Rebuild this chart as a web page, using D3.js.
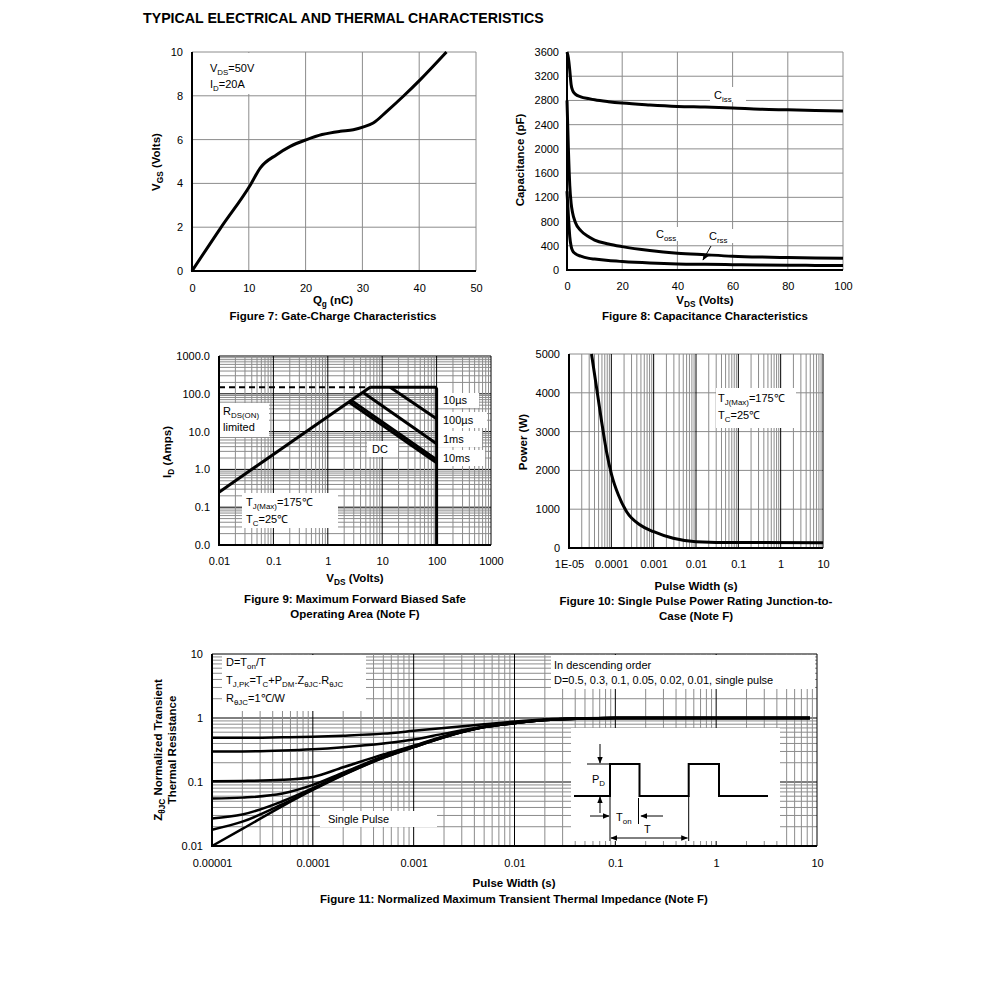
<!DOCTYPE html>
<html>
<head>
<meta charset="utf-8">
<script src="https://cdn.jsdelivr.net/npm/d3@7"></script>
<style>
  body { margin: 0; background: #fff; }
</style>
</head>
<body>
<div id="chart"></div>
<script>
const FONT = '"Liberation Sans", Arial, Helvetica, sans-serif';
const GRID = "#8c8c8c";
const TICK = 11, NOTE = 11, HEAD = 11.5;

// ---------- data ----------
const pageTitle = "TYPICAL ELECTRICAL AND THERMAL CHARACTERISTICS";

// Figure 7: gate charge
const gateCharge = [0, 5, 10.3, 12, 14.9, 17.3, 20.2, 22.9, 26.1, 28.4, 30.2, 31.9, 34.3, 37.2, 40.2, 44.8];
const gateVoltage = [0, 1.95, 3.94, 4.7, 5.31, 5.69, 6.0, 6.23, 6.38, 6.45, 6.58, 6.76, 7.29, 7.98, 8.74, 10];
const fig7XTicks = [0, 10, 20, 30, 40, 50];
const fig7YTicks = [0, 2, 4, 6, 8, 10];

// Figure 8: capacitance
const capVds = [0, 0.5, 1, 1.5, 2, 3, 5, 8, 10, 15, 20, 30, 40, 50, 60, 70, 80, 90, 100];
const ciss = [3600, 3500, 3300, 3060, 2970, 2905, 2860, 2830, 2812, 2780, 2756, 2725, 2702, 2690, 2675, 2655, 2645, 2635, 2625];
const coss = [2800, 2000, 1400, 1100, 950, 790, 650, 545, 495, 430, 386, 322, 278, 252, 228, 214, 206, 199, 194];
const crss = [1300, 900, 550, 390, 320, 270, 228, 192, 180, 156, 140, 116, 100, 93, 88, 83, 79, 76, 73];
const fig8XTicks = [0, 20, 40, 60, 80, 100];
const fig8YTicks = [0, 400, 800, 1200, 1600, 2000, 2400, 2800, 3200, 3600];

// Figure 9: safe operating area
const soaXTicks = [0.01, 0.1, 1, 10, 100, 1000];
const soaXLabels = ["0.01", "0.1", "1", "10", "100", "1000"];
const soaYTicks = [0.01, 0.1, 1, 10, 100, 1000];
const soaYLabels = ["0.0", "0.1", "1.0", "10.0", "100.0", "1000.0"];
const soaPkgV = [0.01, 6];          const soaPkgI = [150, 150];       // dashed package limit
const soaRdsV = [0.01, 6];          const soaRdsI = [0.25, 150];
const soa10usV = [6, 96, 100, 100]; const soa10usI = [150, 150, 135, 0.01];
const soa100usV = [14, 100];        const soa100usI = [150, 22];
const soa1msV = [4.4, 100];         const soa1msI = [110, 4.8];
const soa10msV = [2.7, 100];        const soa10msI = [67, 1.8];
const soaDcV = [2.45, 100];         const soaDcI = [61, 1.5];

// Figure 10: single pulse power
const pulseWidth = [3.4e-5, 4.5e-5, 5.9e-5, 7.7e-5, 1.02e-4, 1.47e-4, 2.3e-4, 4.8e-4, 1e-3, 2.9e-3, 0.01, 0.1, 10];
const pulsePower = [5000, 4115, 3256, 2482, 1881, 1366, 936, 593, 420, 250, 163, 140, 137];
const fig10XTicks = [1e-5, 1e-4, 1e-3, 1e-2, 0.1, 1, 10];
const fig10XLabels = ["1E-05", "0.0001", "0.001", "0.01", "0.1", "1", "10"];
const fig10YTicks = [0, 1000, 2000, 3000, 4000, 5000];

// Figure 11: transient thermal impedance
const zthTime = [1e-5, 2e-5, 5e-5, 1e-4, 2e-4, 5e-4, 1e-3, 2e-3, 5e-3, 1e-2, 2e-2, 5e-2, 0.1, 1, 8.5];
const zthD05 = [0.49, 0.49, 0.50, 0.51, 0.53, 0.57, 0.63, 0.70, 0.80, 0.88, 0.95, 0.99, 1.0, 1.0, 1.0];
const zthD03 = [0.30, 0.30, 0.31, 0.325, 0.35, 0.40, 0.46, 0.57, 0.74, 0.85, 0.94, 0.98, 1.0, 1.0, 1.0];
const zthD01 = [0.103, 0.104, 0.108, 0.12, 0.17, 0.27, 0.37, 0.52, 0.73, 0.84, 0.93, 0.98, 1.0, 1.0, 1.0];
const zthD005 = [0.055, 0.057, 0.066, 0.09, 0.14, 0.25, 0.36, 0.51, 0.72, 0.835, 0.93, 0.98, 1.0, 1.0, 1.0];
const zthD002 = [0.027, 0.031, 0.05, 0.08, 0.135, 0.245, 0.355, 0.505, 0.72, 0.83, 0.93, 0.98, 1.0, 1.0, 1.0];
const zthD001 = [0.018, 0.024, 0.045, 0.077, 0.13, 0.24, 0.35, 0.50, 0.72, 0.83, 0.93, 0.98, 1.0, 1.0, 1.0];
const zthSingle = [0.01, 0.0185, 0.042, 0.075, 0.128, 0.238, 0.35, 0.50, 0.72, 0.83, 0.93, 0.98, 1.0, 1.0, 1.0];
const zthSeries = [zthD05, zthD03, zthD01, zthD005, zthD002, zthD001, zthSingle];
const fig11XTicks = [1e-5, 1e-4, 1e-3, 1e-2, 0.1, 1, 10];
const fig11XLabels = ["0.00001", "0.0001", "0.001", "0.01", "0.1", "1", "10"];
const fig11YTicks = [0.01, 0.1, 1, 10];
const fig11YLabels = ["0.01", "0.1", "1", "10"];

// ---------- helpers ----------
const svg = d3.select("#chart").append("svg")
  .attr("width", 991).attr("height", 995)
  .attr("font-family", FONT);

svg.append("defs").append("marker")
  .attr("id", "arrow")
  .attr("viewBox", "0 0 10 10")
  .attr("refX", 9).attr("refY", 5)
  .attr("markerWidth", 7).attr("markerHeight", 7)
  .attr("markerUnits", "userSpaceOnUse")
  .attr("orient", "auto-start-reverse")
  .append("path").attr("d", "M0,1 L10,5 L0,9 Z").attr("fill", "#000");

// text with optional subscripts: parts are strings or {sub: "..."}
function label(g, x, y, parts, o = {}) {
  const size = o.size || NOTE;
  const t = g.append("text")
    .attr("x", x).attr("y", y + size * 0.35)
    .attr("font-size", size)
    .attr("font-weight", o.bold ? "bold" : "normal")
    .attr("text-anchor", o.anchor || "start")
    .attr("fill", "#000");
  if (o.rotate) t.attr("transform", `rotate(-90,${x},${y})`);
  let low = false;
  parts.forEach((p) => {
    const isSub = typeof p !== "string";
    const ts = t.append("tspan").text(isSub ? p.sub : p);
    if (isSub) {
      ts.attr("font-size", size * 0.72);
      if (!low) { ts.attr("dy", size * 0.3); low = true; }
    } else if (low) {
      ts.attr("dy", -size * 0.3); low = false;
    }
  });
  return t;
}
const head = (g, x, y, parts, rotate) =>
  label(g, x, y, parts, { size: HEAD, bold: true, anchor: "middle", rotate });

function whiteBox(g, x0, y0, x1, y1) {
  g.append("rect").attr("x", x0).attr("y", y0)
    .attr("width", x1 - x0).attr("height", y1 - y0).attr("fill", "#fff");
}

const isDecade = (d) => Math.abs(Math.log10(d) - Math.round(Math.log10(d))) < 1e-9;

function grid(g, x, y, xVals, yVals, xMajor, yMajor) {
  const [y0, y1] = y.range();
  const [x0, x1] = x.range();
  const xs = xVals.slice().sort((a, b) => xMajor(a) - xMajor(b));
  const ys = yVals.slice().sort((a, b) => yMajor(a) - yMajor(b));
  g.append("g").selectAll("line").data(ys).join("line")
    .attr("x1", x0).attr("x2", x1)
    .attr("y1", (d) => y(d)).attr("y2", (d) => y(d))
    .attr("stroke", (d) => (yMajor(d) ? "#000" : GRID)).attr("stroke-width", 1);
  g.append("g").selectAll("line").data(xs).join("line")
    .attr("y1", y0).attr("y2", y1)
    .attr("x1", (d) => x(d)).attr("x2", (d) => x(d))
    .attr("stroke", (d) => (xMajor(d) ? "#000" : GRID)).attr("stroke-width", 1);
}

function frame(g, x, y) {
  const [x0] = x.range();
  const [y0, y1] = y.range();
  g.append("line").attr("x1", x0).attr("x2", x0).attr("y1", y0 + 1).attr("y2", y1)
    .attr("stroke", "#000").attr("stroke-width", 2);
  g.append("line").attr("x1", x0).attr("x2", x.range()[1]).attr("y1", y0).attr("y2", y0)
    .attr("stroke", "#000").attr("stroke-width", 2);
}

function axes(g, x, y, o) {
  const xa = g.append("g").attr("transform", `translate(0,${y.range()[0]})`)
    .call(d3.axisBottom(x).tickValues(o.xTicks)
      .tickFormat((d, i) => (o.xLabels ? o.xLabels[i] : d))
      .tickSize(0).tickPadding(o.xPad || 14));
  const ya = g.append("g").attr("transform", `translate(${x.range()[0]},0)`)
    .call(d3.axisLeft(y).tickValues(o.yTicks)
      .tickFormat((d, i) => (o.yLabels ? o.yLabels[i] : d))
      .tickSize(0).tickPadding(o.yPad || 9));
  [xa, ya].forEach((a) => {
    a.select(".domain").remove();
    a.attr("font-family", FONT).attr("font-size", TICK);
    a.selectAll("text").attr("fill", "#000");
  });
}

function curve(g, xs, ys, x, y, o = {}) {
  const pts = xs.map((v, i) => [x(v), y(ys[i])]);
  g.append("path")
    .attr("d", d3.line().curve(o.curve || d3.curveLinear)(pts))
    .attr("fill", "none").attr("stroke", "#000")
    .attr("stroke-width", o.width || 3)
    .attr("stroke-linejoin", "round")
    .attr("stroke-dasharray", o.dash || null);
}

// ---------- title ----------
svg.append("text").attr("x", 143).attr("y", 23)
  .attr("font-size", 14.2).attr("font-weight", "bold").text(pageTitle);

// ---------- Figure 7 ----------
{
  const g = svg.append("g");
  const x = d3.scaleLinear().domain([0, 50]).range([192, 476]);
  const y = d3.scaleLinear().domain([0, 10]).range([271, 52]);
  grid(g, x, y, fig7XTicks, fig7YTicks, () => false, () => false);
  whiteBox(g, 193, 53, 257, 94);
  frame(g, x, y);
  axes(g, x, y, { xTicks: fig7XTicks, yTicks: fig7YTicks, xPad: 13, yPad: 9 });
  curve(g, gateCharge, gateVoltage, x, y, { curve: d3.curveMonotoneX, width: 3 });
  label(g, 210, 68, ["V", { sub: "DS" }, "=50V"]);
  label(g, 210, 84, ["I", { sub: "D" }, "=20A"]);
  head(g, 156, 162, ["V", { sub: "GS" }, " (Volts)"], true);
  head(g, 333, 300, ["Q", { sub: "g" }, " (nC)"]);
  head(g, 333, 316, ["Figure 7: Gate-Charge Characteristics"]);
}

// ---------- Figure 8 ----------
{
  const g = svg.append("g");
  const x = d3.scaleLinear().domain([0, 100]).range([567, 843]);
  const y = d3.scaleLinear().domain([0, 3600]).range([270, 52]);
  grid(g, x, y, fig8XTicks, fig8YTicks, () => false, () => false);
  frame(g, x, y);
  axes(g, x, y, { xTicks: fig8XTicks, yTicks: fig8YTicks, xPad: 12, yPad: 8 });
  whiteBox(g, 710, 87, 746, 102);
  whiteBox(g, 652, 227, 682, 241);
  whiteBox(g, 705, 229, 734, 243);
  curve(g, capVds, ciss, x, y, { curve: d3.curveMonotoneX });
  curve(g, capVds, coss, x, y, { curve: d3.curveMonotoneX });
  curve(g, capVds, crss, x, y, { curve: d3.curveMonotoneX });
  label(g, 714, 95, ["C", { sub: "iss" }]);
  label(g, 656, 234, ["C", { sub: "oss" }]);
  label(g, 709, 236, ["C", { sub: "rss" }]);
  g.append("line").attr("x1", 711).attr("y1", 246).attr("x2", 703).attr("y2", 260)
    .attr("stroke", "#000").attr("stroke-width", 1).attr("marker-end", "url(#arrow)");
  head(g, 520, 160, ["Capacitance (pF)"], true);
  head(g, 705, 300, ["V", { sub: "DS" }, " (Volts)"]);
  head(g, 705, 316, ["Figure 8: Capacitance Characteristics"]);
}

// ---------- Figure 9 ----------
{
  const g = svg.append("g");
  const x = d3.scaleLog().domain([0.01, 1000]).range([219, 491]);
  const y = d3.scaleLog().domain([0.01, 1000]).range([545, 356]);
  grid(g, x, y, x.ticks(), y.ticks(), isDecade, isDecade);
  frame(g, x, y);
  axes(g, x, y, { xTicks: soaXTicks, xLabels: soaXLabels, yTicks: soaYTicks, yLabels: soaYLabels, xPad: 12, yPad: 9 });
  whiteBox(g, 220, 403, 269, 437);
  whiteBox(g, 438, 393, 479, 408);
  whiteBox(g, 438, 412, 487, 428);
  whiteBox(g, 438, 431, 482, 447);
  whiteBox(g, 438, 450, 485, 466);
  whiteBox(g, 367, 441, 398, 457);
  whiteBox(g, 242, 493, 338, 528);
  curve(g, soaPkgV, soaPkgI, x, y, { width: 2, dash: "6,4" });
  curve(g, soaRdsV, soaRdsI, x, y);
  curve(g, soa10usV, soa10usI, x, y);
  curve(g, soa100usV, soa100usI, x, y);
  curve(g, soa1msV, soa1msI, x, y);
  curve(g, soa10msV, soa10msI, x, y);
  curve(g, soaDcV, soaDcI, x, y);
  label(g, 223, 411, ["R", { sub: "DS(ON)" }]);
  label(g, 223, 427, ["limited"]);
  label(g, 443, 400, ["10µs"]);
  label(g, 443, 420, ["100µs"]);
  label(g, 443, 439, ["1ms"]);
  label(g, 443, 458, ["10ms"]);
  label(g, 372, 449, ["DC"]);
  label(g, 246, 502, ["T", { sub: "J(Max)" }, "=175℃"]);
  label(g, 246, 519, ["T", { sub: "C" }, "=25℃"]);
  head(g, 167, 452, ["I", { sub: "D" }, " (Amps)"], true);
  head(g, 355, 578, ["V", { sub: "DS" }, " (Volts)"]);
  head(g, 355, 599, ["Figure 9: Maximum Forward Biased Safe"]);
  head(g, 355, 614, ["Operating Area (Note F)"]);
}

// ---------- Figure 10 ----------
{
  const g = svg.append("g");
  const x = d3.scaleLog().domain([1e-5, 10]).range([569, 823]);
  const y = d3.scaleLinear().domain([0, 5000]).range([548, 354]);
  grid(g, x, y, x.ticks(), fig10YTicks, isDecade, () => false);
  frame(g, x, y);
  axes(g, x, y, { xTicks: fig10XTicks, xLabels: fig10XLabels, yTicks: fig10YTicks, xPad: 12, yPad: 9 });
  whiteBox(g, 716, 388, 796, 428);
  curve(g, pulseWidth, pulsePower, x, y, { curve: d3.curveMonotoneX });
  label(g, 718, 398, ["T", { sub: "J(Max)" }, "=175℃"]);
  label(g, 718, 415, ["T", { sub: "C" }, "=25℃"]);
  head(g, 523, 442, ["Power (W)"], true);
  head(g, 696, 586, ["Pulse Width (s)"]);
  head(g, 696, 601, ["Figure 10: Single Pulse Power Rating Junction-to-"]);
  head(g, 696, 616, ["Case (Note F)"]);
}

// ---------- Figure 11 ----------
{
  const g = svg.append("g");
  const x = d3.scaleLog().domain([1e-5, 10]).range([212, 817]);
  const y = d3.scaleLog().domain([0.01, 10]).range([846, 654]);
  grid(g, x, y, x.ticks(), y.ticks(), isDecade, isDecade);
  frame(g, x, y);
  axes(g, x, y, { xTicks: fig11XTicks, xLabels: fig11XLabels, yTicks: fig11YTicks, yLabels: fig11YLabels, xPad: 13, yPad: 9 });
  whiteBox(g, 222, 655, 366, 711);
  whiteBox(g, 551, 655, 815, 689);
  whiteBox(g, 320, 811, 437, 827);
  whiteBox(g, 571, 728, 780, 841);
  zthSeries.forEach((s) => curve(g, zthTime, s, x, y, { curve: d3.curveMonotoneX, width: 2.5 }));

  label(g, 226, 662, ["D=T", { sub: "on" }, "/T"]);
  label(g, 226, 680, ["T", { sub: "J,PK" }, "=T", { sub: "C" }, "+P", { sub: "DM" }, ".Z", { sub: "θJC" }, ".R", { sub: "θJC" }]);
  label(g, 226, 698, ["R", { sub: "θJC" }, "=1℃/W"]);
  label(g, 554, 665, ["In descending order"]);
  label(g, 554, 680, ["D=0.5, 0.3, 0.1, 0.05, 0.02, 0.01, single pulse"]);
  label(g, 328, 819, ["Single Pulse"]);

  // inset pulse diagram, local coordinates inside the white box
  const ins = g.append("g").attr("transform", "translate(571,728)");
  const hi = 36, lo = 68;
  const wave = [[3, lo], [39, lo], [39, hi], [68.5, hi], [68.5, lo], [117.7, lo], [117.7, hi], [148, hi], [148, lo], [197, lo]];
  ins.append("path").attr("d", d3.line()(wave)).attr("fill", "none")
    .attr("stroke", "#000").attr("stroke-width", 2);
  const thin = [
    [[39, lo], [39, 113]],
    [[67.5, 70], [67.5, 96]],
    [[117.7, lo], [117.7, 113]],
    [[16, hi], [39, hi]]
  ];
  thin.forEach((l) => ins.append("path").attr("d", d3.line()(l))
    .attr("stroke", "#000").attr("stroke-width", 1));
  const arrows = [
    [[29, 16], [29, hi - 1]],
    [[29, 85], [29, lo + 1]],
    [[19, 88], [38, 88]],
    [[92, 88], [70, 88]]
  ];
  arrows.forEach((l) => ins.append("path").attr("d", d3.line()(l))
    .attr("stroke", "#000").attr("stroke-width", 1).attr("marker-end", "url(#arrow)"));
  ins.append("path").attr("d", d3.line()([[40, 110], [116.5, 110]]))
    .attr("stroke", "#000").attr("stroke-width", 1)
    .attr("marker-start", "url(#arrow)").attr("marker-end", "url(#arrow)");
  label(ins, 21, 51, ["P", { sub: "D" }]);
  label(ins, 45, 89, ["T", { sub: "on" }]);
  label(ins, 73, 101, ["T"]);

  head(g, 158, 750, ["Z", { sub: "θJC" }, " Normalized Transient"], true);
  head(g, 172, 750, ["Thermal Resistance"], true);
  head(g, 514, 883, ["Pulse Width (s)"]);
  head(g, 514, 899, ["Figure 11: Normalized Maximum Transient Thermal Impedance (Note F)"]);
}
</script>
</body>
</html>
